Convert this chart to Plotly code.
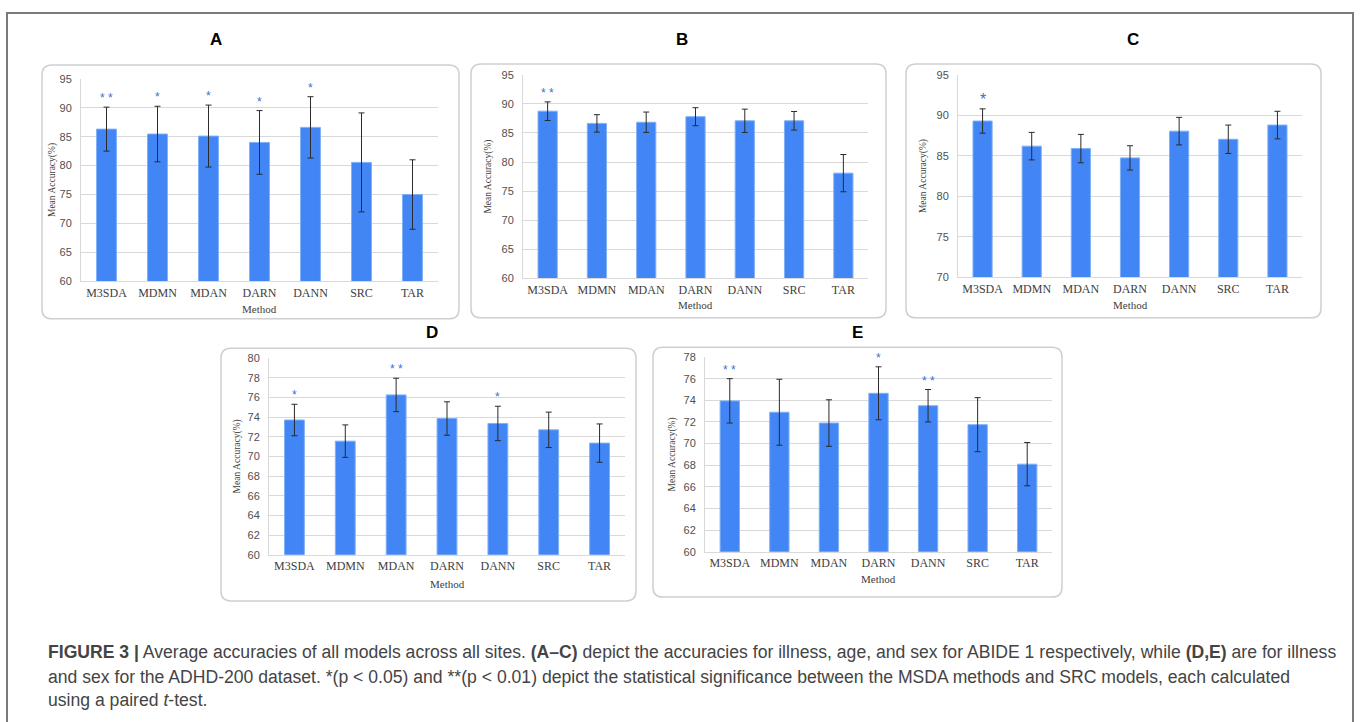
import plotly.graph_objects as go

W, H = 1360, 722

methods = ["M3SDA", "MDMN", "MDAN", "DARN", "DANN", "SRC", "TAR"]

A_mean = [86.3, 85.45, 85.1, 84.0, 86.6, 80.55, 75.0]
A_err = [3.8, 4.8, 5.35, 5.5, 5.3, 8.55, 6.0]
A_sig = ["**", "*", "*", "*", "*", "", ""]

B_mean = [88.75, 86.65, 86.85, 87.8, 87.1, 87.1, 78.1]
B_err = [1.6, 1.5, 1.75, 1.55, 2.0, 1.6, 3.2]
B_sig = ["**", "", "", "", "", "", ""]

C_mean = [89.3, 86.2, 85.9, 84.75, 88.05, 87.05, 88.8]
C_err = [1.5, 1.7, 1.75, 1.5, 1.7, 1.75, 1.7]
C_sig = ["*", "", "", "", "", "", ""]

D_mean = [73.7, 71.55, 76.25, 73.85, 73.35, 72.7, 71.35]
D_err = [1.6, 1.65, 1.7, 1.7, 1.75, 1.8, 1.95]
D_sig = ["*", "", "**", "", "*", "", ""]

E_mean = [73.95, 72.9, 71.9, 74.65, 73.5, 71.75, 68.1]
E_err = [2.05, 3.05, 2.15, 2.45, 1.5, 2.5, 2.0]
E_sig = ["**", "", "", "*", "**", "", ""]

panel_labels = ["A", "B", "C", "D", "E"]
y_ranges = [(60, 95, 5), (60, 95, 5), (70, 95, 5), (60, 80, 2), (60, 78, 2)]

# pixel layout: plot area (x0, x1, y_top, y_bottom), box (x0, x1, y0, y1), title pos
plot_px = [
    (81, 438, 74, 280),
    (523, 868, 70, 277),
    (958, 1302, 70, 276),
    (269, 625, 358, 558),
    (705, 1052, 357, 555),
]
box_px = [
    (42, 459, 60, 318),
    (471, 886, 59, 317),
    (906, 1321, 59, 317),
    (221, 636, 348, 605),
    (653, 1062, 347, 601),
]
title_px = [(216, 34), (682, 34), (1133, 34), (432, 332), (857, 332)]
ytitle_x = [52, 489, 923, 237, 672]
method_dy = [28, 27, 28, 30, 28]

means = [A_mean, B_mean, C_mean, D_mean, E_mean]
errs = [A_err, B_err, C_err, D_err, E_err]
sigs = [A_sig, B_sig, C_sig, D_sig, E_sig]

BAR = "#4285F4"
STAR = "#3B6FD6"
GRID = "#d9d9d9"
TICK = "#404040"
SERIF = "Liberation Serif, Times New Roman, serif"
SANS = "Liberation Sans, Arial, sans-serif"


def px_x(x):
    return x / W


def px_y(y):
    return 1 - y / H


fig = go.Figure()
layout = dict(
    width=W, height=H,
    margin=dict(l=0, r=0, t=0, b=0),
    paper_bgcolor="white", plot_bgcolor="white",
    showlegend=False,
    bargap=0.61,
)
annotations = []
shapes = []

# outer frame
shapes.append(dict(type="rect", xref="paper", yref="paper",
                   x0=px_x(7), x1=px_x(1353), y0=px_y(740), y1=px_y(7),
                   line=dict(color="#7a7a7a", width=2), fillcolor="rgba(0,0,0,0)"))


def rounded_path(x0, x1, y0, y1, r):
    rx = r / W
    ry = r / H
    X0, X1 = px_x(x0), px_x(x1)
    Yt, Yb = px_y(y0), px_y(y1)
    return (f"M {X0+rx},{Yt} L {X1-rx},{Yt} Q {X1},{Yt} {X1},{Yt-ry} "
            f"L {X1},{Yb+ry} Q {X1},{Yb} {X1-rx},{Yb} "
            f"L {X0+rx},{Yb} Q {X0},{Yb} {X0},{Yb+ry} "
            f"L {X0},{Yt-ry} Q {X0},{Yt} {X0+rx},{Yt} Z")


for i in range(5):
    n = "" if i == 0 else str(i + 1)
    xa, ya = "x" + n, "y" + n
    px0, px1, pyt, pyb = plot_px[i]
    bx0, bx1, by0, by1 = box_px[i]
    lo, hi, dt = y_ranges[i]

    shapes.append(dict(type="path", xref="paper", yref="paper",
                       path=rounded_path(bx0, bx1, by0, by1, 10),
                       line=dict(color="#cfcfcf", width=1.5)))

    fig.add_trace(go.Bar(
        x=methods, y=means[i], xaxis=xa, yaxis=ya,
        marker=dict(color=BAR, line=dict(color="#7fb0f8", width=1)),
        error_y=dict(type="data", array=errs[i], visible=True,
                     color="#2b2b2b", thickness=1, width=3),
    ))

    layout["xaxis" + n] = dict(
        domain=[px_x(px0), px_x(px1)], anchor=ya,
        showgrid=False, showline=True, linecolor=GRID, linewidth=1,
        ticks="", tickfont=dict(family=SERIF, size=12, color=TICK),
        fixedrange=True,
    )
    layout["yaxis" + n] = dict(
        domain=[px_y(pyb), px_y(pyt)], anchor=xa,
        range=[lo, hi], tick0=lo, dtick=dt,
        showgrid=True, gridcolor=GRID, gridwidth=1,
        showline=True, linecolor=GRID, linewidth=1,
        zeroline=False, ticks="", ticklabelstandoff=6,
        tickfont=dict(family=SANS, size=11, color="#505050"),
        fixedrange=True,
    )

    tx, ty = title_px[i]
    annotations.append(dict(xref="paper", yref="paper", x=px_x(tx), y=px_y(ty),
                            text="<b>" + panel_labels[i] + "</b>", showarrow=False,
                            xanchor="center", yanchor="middle",
                            font=dict(family=SANS, size=17, color="#000")))
    annotations.append(dict(xref="paper", yref="paper",
                            x=px_x((px0 + px1) / 2), y=px_y(pyb + method_dy[i]),
                            text="Method", showarrow=False,
                            xanchor="center", yanchor="middle",
                            font=dict(family=SERIF, size=11, color=TICK)))
    annotations.append(dict(xref="paper", yref="paper",
                            x=px_x(ytitle_x[i]), y=px_y((pyt + pyb) / 2),
                            text="Mean Accuracy(%)", showarrow=False, textangle=-90,
                            xanchor="center", yanchor="middle",
                            font=dict(family=SERIF, size=9.5, color=TICK)))
    for m, v, e, s in zip(methods, means[i], errs[i], sigs[i]):
        if not s:
            continue
        txt = "* *" if s == "**" else "*"
        size = 16 if i == 2 else 12
        annotations.append(dict(xref=xa, yref=ya, x=m, y=v + e,
                                text=txt, showarrow=False,
                                xanchor="center", yanchor="middle", yshift=9,
                                font=dict(family=SANS, size=size, color=STAR)))

cap_lines = [
    "<b>FIGURE 3 |</b> Average accuracies of all models across all sites. <b>(A–C)</b> depict the accuracies for illness, age, and sex for ABIDE 1 respectively, while <b>(D,E)</b> are for illness",
    "and sex for the ADHD-200 dataset. *(p &lt; 0.05) and **(p &lt; 0.01) depict the statistical significance between the MSDA methods and SRC models, each calculated",
    "using a paired <i>t</i>-test.",
]
cap_y = [657, 682, 706]
for t, y in zip(cap_lines, cap_y):
    annotations.append(dict(xref="paper", yref="paper", x=px_x(46), y=px_y(y),
                            text=t, showarrow=False, xanchor="left", yanchor="middle",
                            align="left",
                            font=dict(family=SANS, size=17.6, color="#444444")))

layout["annotations"] = annotations
layout["shapes"] = shapes
fig.update_layout(**layout)
fig.write_html("out.html",
               config={"displayModeBar": False},
               post_script="document.body.style.margin='0px';document.body.style.overflow='hidden';")
